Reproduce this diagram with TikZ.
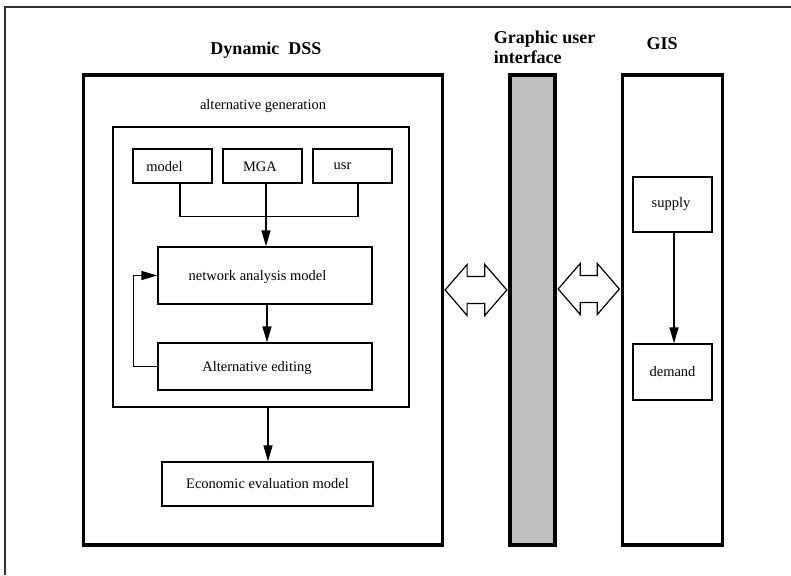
\documentclass[tikz,border=0pt]{standalone}
\usepackage{fontspec}
\setmainfont{Liberation Serif}
\usetikzlibrary{arrows.meta,calc}

\tikzset{
  panel/.style={draw, line width=3.2pt, inner sep=0pt},
  blk/.style={draw, line width=1.3pt, inner sep=0pt,
    font=\fontsize{14.5}{17}\selectfont},
  lbl/.style={inner sep=0pt, font=\fontsize{14.5}{17}\selectfont},
  ttl/.style={inner sep=0pt, font=\fontsize{18}{20}\selectfont\bfseries},
  link/.style={line width=1.3pt},
  flow/.style={line width=1.3pt, -{Triangle[length=16pt,width=9pt]}},
  bigarrow/.style={draw, line width=1.2pt, fill=white, line join=miter},
}

\begin{document}
\begin{tikzpicture}[x=1pt,y=-1pt]
  % canvas
  \fill[white] (0,0) rectangle (791,575);
  \useasboundingbox (0,0) rectangle (791,575);
  \draw[line width=1.6pt, black!80] (5,575) -- (5,7) -- (791,7);

  % the three columns
  \node[panel, minimum width=359pt, minimum height=470pt] (dss) at (263,310) {};
  \node[panel, fill={rgb,255:red,192;green,192;blue,192},
        minimum width=45pt, minimum height=470pt] (gui) at (532.5,310) {};
  \node[panel, minimum width=100pt, minimum height=470pt] (gis) at (672.5,310) {};

  % column titles
  \node[ttl] (dsst) at (266,50) {Dynamic\ \ DSS};
  \node[ttl, align=left] (guit) at (544.5,47) {Graphic user\\interface};
  \node[ttl] (gist) at (662,44) {GIS};

  % alternative generation block (box texts sit a little left of centre)
  \node[lbl] (altgen) at (263,106) {alternative generation};
  \node[blk, minimum width=296pt, minimum height=280pt] (inner) at (261,267) {};
  \node[blk, minimum width=79pt, minimum height=34pt] (model) at (172.5,166) {};
  \node[lbl] (modelt) at (164.5,167) {model};
  \node[blk, minimum width=79pt, minimum height=34pt] (mga) at (262.5,166) {};
  \node[lbl] (mgat) at (260,167) {MGA};
  \node[blk, minimum width=79pt, minimum height=34pt] (usr) at (352.5,166) {};
  \node[lbl] (usrt) at (342.5,166) {usr};
  \node[blk, minimum width=214pt, minimum height=57pt] (net) at (265,275.5) {};
  \node[lbl] (nett) at (257.5,277) {network analysis model};
  \node[blk, minimum width=214pt, minimum height=47pt] (alt) at (265,366.5) {};
  \node[lbl] (altt) at (257,368) {Alternative editing};
  \node[blk, minimum width=211pt, minimum height=44pt] (econ) at (267.5,484)
    {Economic evaluation model};

  % GIS contents
  \node[blk, minimum width=79pt, minimum height=55pt] (supply) at (672.5,204.5) {};
  \node[lbl] (supplyt) at (671,204) {supply};
  \node[blk, minimum width=79pt, minimum height=56pt] (demand) at (672.5,372) {demand};

  % connectors
  \draw[link] ([xshift=7.5pt]model.south) -- ++(0,33) -| ([xshift=5.5pt]usr.south);
  \draw[flow] ([xshift=3.5pt]mga.south) -- ([xshift=3.5pt]mga.south |- net.north);
  \draw[flow] ([xshift=2pt]net.south) -- ([xshift=2pt]alt.north);
  \draw[flow] (alt.west) -- ++(-24,0) |- (net.west);
  \draw[flow] ([xshift=7pt]inner.south) -- ([xshift=7pt]inner.south |- econ.north);
  \draw[flow] ([xshift=1.5pt]supply.south) -- ([xshift=1.5pt]supply.south |- demand.north);

  % two-way block arrows between the columns
  \coordinate (a1) at ([xshift=1pt]dss.east |- 0,290);
  \coordinate (a2) at ([xshift=-1.6pt]gui.west |- 0,290);
  \coordinate (b1) at ([xshift=1.6pt]gui.east |- 0,289);
  \coordinate (b2) at ([xshift=-1.6pt]gis.west |- 0,289);
  \draw[bigarrow] (a1) -- ++(22,-25.5) -- ++(0,12) -- ($(a2)+(-22,-13.5)$) -- ++(0,-12)
    -- (a2) -- ++(-22,25.5) -- ++(0,-12) -- ($(a1)+(22,13.5)$) -- ++(0,12) -- cycle;
  \draw[bigarrow] (b1) -- ++(22,-25.5) -- ++(0,12) -- ($(b2)+(-22,-13.5)$) -- ++(0,-12)
    -- (b2) -- ++(-22,25.5) -- ++(0,-12) -- ($(b1)+(22,13.5)$) -- ++(0,12) -- cycle;
\end{tikzpicture}
\end{document}
